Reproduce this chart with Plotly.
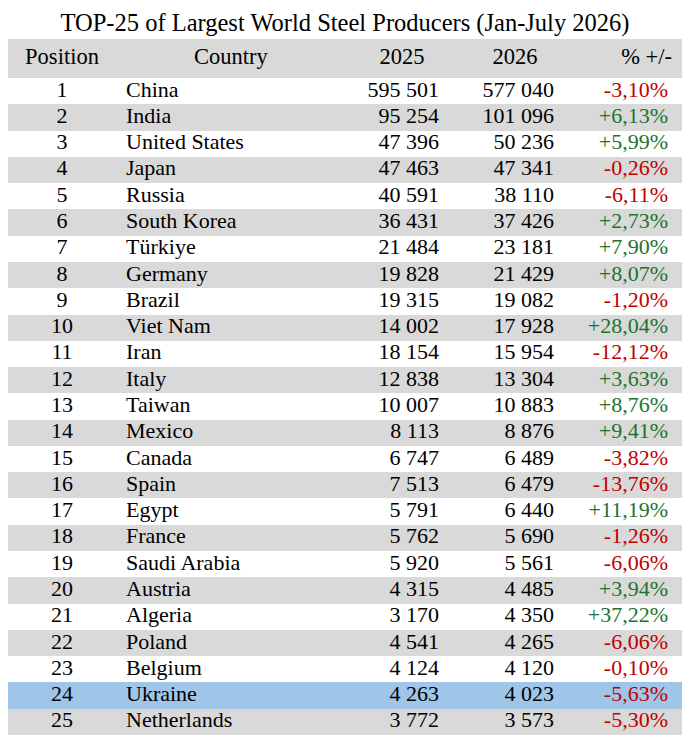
import plotly.graph_objects as go

# ---- data ----
positions = list(range(1, 26))
countries = [
    "China", "India", "United States", "Japan", "Russia", "South Korea",
    "Türkiye", "Germany", "Brazil", "Viet Nam", "Iran", "Italy", "Taiwan",
    "Mexico", "Canada", "Spain", "Egypt", "France", "Saudi Arabia",
    "Austria", "Algeria", "Poland", "Belgium", "Ukraine", "Netherlands",
]
prod_2025 = [595501, 95254, 47396, 47463, 40591, 36431, 21484, 19828, 19315,
             14002, 18154, 12838, 10007, 8113, 6747, 7513, 5791, 5762, 5920,
             4315, 3170, 4541, 4124, 4263, 3772]
prod_2026 = [577040, 101096, 50236, 47341, 38110, 37426, 23181, 21429, 19082,
             17928, 15954, 13304, 10883, 8876, 6489, 6479, 6440, 5690, 5561,
             4485, 4350, 4265, 4120, 4023, 3573]
change_pct = [-3.10, 6.13, 5.99, -0.26, -6.11, 2.73, 7.90, 8.07, -1.20, 28.04,
              -12.12, 3.63, 8.76, 9.41, -3.82, -13.76, 11.19, -1.26, -6.06,
              3.94, 37.22, -6.06, -0.10, -5.63, -5.30]
headers = ["Position", "Country", "2025", "2026", "% +/-"]
highlight = "Ukraine"

# ---- styling / layout (page pixels) ----
PAGE_W, PAGE_H = 690, 743
BODY_MARGIN = 8           # default html body margin around the plot div
W, H = PAGE_W - 2 * BODY_MARGIN, PAGE_H - 2 * BODY_MARGIN
LEFT, RIGHT = 7, 682
HEAD_TOP, HEAD_H = 39, 39
ROW_H = 26.28
FONT = "Liberation Serif"
GRAY = "#d9d9d9"
BLUE = "#9fc5e8"
RED = "#c00000"
GREEN = "#1e7330"
TXT = "#000000"

# column anchors: header x / align, body x / align
HEAD_X = [62, 231, 402, 515, 672]
HEAD_POS = ["middle center"] * 4 + ["middle left"]
BODY_X = [62, 126, 439, 554, 668]
BODY_POS = ["middle center", "middle right", "middle left", "middle left", "middle left"]


def fmt_int(v):
    return f"{v:,}".replace(",", " ")


def fmt_pct(p):
    return f"{p:+.2f}%".replace(".", ",")


n = len(countries)
row_y = [HEAD_TOP + HEAD_H + ROW_H * (i + 0.5) for i in range(n)]
row_colors = []
for i, c in enumerate(countries):
    if c == highlight:
        row_colors.append(BLUE)
    elif i % 2 == 1 or i == n - 1:
        row_colors.append(GRAY)
    else:
        row_colors.append("white")

fig = go.Figure()

# row backgrounds (header + body) as horizontal bars
fig.add_trace(go.Bar(
    orientation="h",
    y=[HEAD_TOP + HEAD_H / 2] + row_y,
    x=[RIGHT - LEFT] * (n + 1),
    base=LEFT,
    width=[HEAD_H] + [ROW_H] * n,
    marker=dict(color=[GRAY] + row_colors, line=dict(width=0)),
    hoverinfo="skip",
    showlegend=False,
))

# header text
fig.add_trace(go.Scatter(
    x=HEAD_X, y=[HEAD_TOP + HEAD_H / 2] * len(headers),
    text=headers, mode="text", textposition=HEAD_POS,
    textfont=dict(family=FONT, size=22.5, color=TXT),
    hoverinfo="skip", showlegend=False,
))

# body columns
columns = [
    [str(p) for p in positions],
    countries,
    [fmt_int(v) for v in prod_2025],
    [fmt_int(v) for v in prod_2026],
    [fmt_pct(p) for p in change_pct],
]
for k, col in enumerate(columns):
    if k == 4:
        color = [RED if p < 0 else GREEN for p in change_pct]
    else:
        color = TXT
    fig.add_trace(go.Scatter(
        x=[BODY_X[k]] * n, y=row_y,
        text=col, mode="text", textposition=BODY_POS[k],
        textfont=dict(family=FONT, size=22, color=color),
        hoverinfo="skip", showlegend=False,
    ))

# title kept just low enough that its text box stays inside the plot div
fig.update_layout(
    title=dict(
        text="TOP-25 of Largest World Steel Producers (Jan-July 2026)",
        font=dict(family=FONT, size=24.5, color=TXT),
        x=0.5, xanchor="center",
        y=1 - (22 - BODY_MARGIN) / H, yref="container", yanchor="middle",
    ),
    font=dict(family=FONT),
    width=W, height=H, autosize=False,
    margin=dict(l=0, r=0, t=0, b=0),
    paper_bgcolor="white", plot_bgcolor="white",
    xaxis=dict(range=[BODY_MARGIN, BODY_MARGIN + W], visible=False, fixedrange=True),
    yaxis=dict(range=[BODY_MARGIN + H, BODY_MARGIN], visible=False, fixedrange=True),
    bargap=0,
)

fig.write_html("out.html")
